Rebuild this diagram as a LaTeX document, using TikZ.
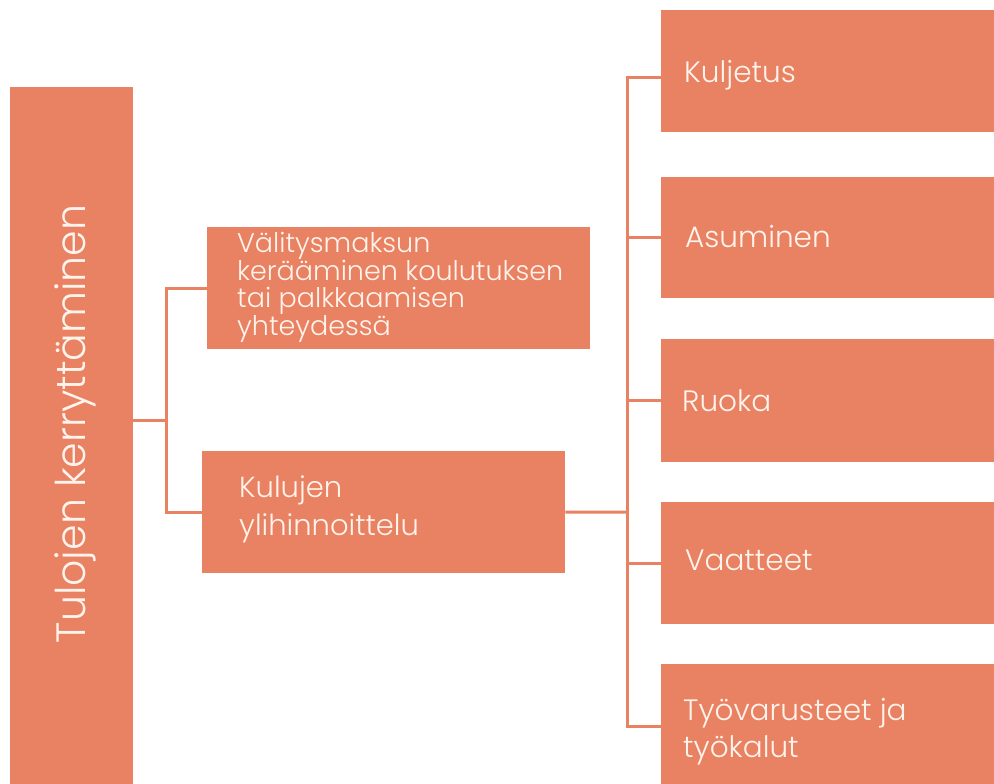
\documentclass[tikz,border=0pt]{standalone}
\usepackage{fontspec}
\IfFontExistsTF{Poppins Light}{\setmainfont{Poppins Light}}{\setmainfont{Poppins}}
\definecolor{coral}{HTML}{E98163}
\definecolor{cream}{HTML}{FFF4EC}
\begin{document}
\begin{tikzpicture}[x=1pt,y=-1pt,
  box/.style={fill=coral, draw=none, inner sep=0pt, anchor=north west},
  txt/.style={text=cream, inner sep=0pt, anchor=base west, font=\fontsize{29.5}{37}\selectfont, align=left},
  conn/.style={draw=coral, line width=3pt}]
\useasboundingbox (0,0) rectangle (994,784);
% left tall box
\node[box, minimum width=123pt, minimum height=697pt] (root) at (10,87) {};
\node[text=cream, inner sep=0pt, rotate=90, anchor=base, font=\fontsize{41}{44}\selectfont] (roottxt) at (85,424) {Tulojen kerryttäminen};
% middle boxes
\node[box, minimum width=383pt, minimum height=122pt] (b1) at (207,227) {};
\node[txt, font=\fontsize{27}{26.7}\selectfont] (b1t) at (237,335) {Välitysmaksun\\kerääminen koulutuksen\\tai palkkaamisen\\yhteydessä};
\node[box, minimum width=363pt, minimum height=122pt] (b2) at (202,451) {};
\node[txt, font=\fontsize{29}{38}\selectfont] (b2t) at (239,535) {Kulujen\\ylihinnoittelu};
% right boxes
\node[box, minimum width=340pt, minimum height=122pt] (r1) at (661,10) {};
\node[txt] (r1t) at (684,83) {Kuljetus};
\node[box, minimum width=340pt, minimum height=121pt] (r2) at (661,177) {};
\node[txt] (r2t) at (685,247) {Asuminen};
\node[box, minimum width=340pt, minimum height=123pt] (r3) at (661,339) {};
\node[txt] (r3t) at (682,411) {Ruoka};
\node[box, minimum width=340pt, minimum height=122pt] (r4) at (661,502) {};
\node[txt] (r4t) at (685,570) {Vaatteet};
\node[box, minimum width=340pt, minimum height=125pt] (r5) at (661,664) {};
\node[txt] (r5t) at (683,757) {Työvarusteet ja\\työkalut};
% connectors
\coordinate (lj) at (166,420);
\coordinate (rj) at (627,512);
\draw[conn] (lj -| root.east) -- (lj);
\draw[conn] (b1.west) -| (lj) |- (b2.west);
\draw[conn] (b2.east) -- (rj);
\draw[conn] ([yshift=-6pt]r1.west) -| (rj) |- (r5.west);
\draw[conn] (r2.west) -- (r2.west -| rj);
\draw[conn] (r3.west) -- (r3.west -| rj);
\draw[conn] (r4.west) -- (r4.west -| rj);
\end{tikzpicture}
\end{document}
